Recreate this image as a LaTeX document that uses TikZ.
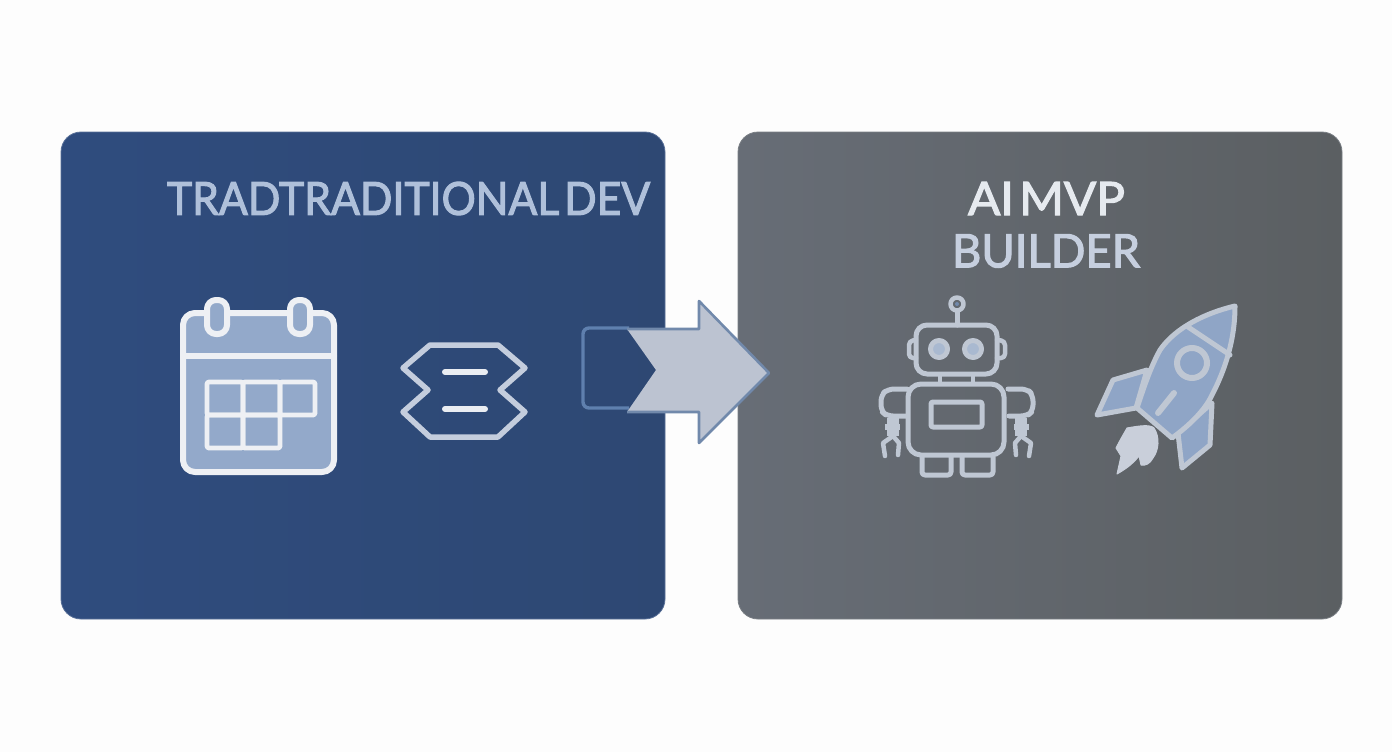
\documentclass[tikz,border=0pt]{standalone}
\usepackage{fontspec}
\setmainfont[WordSpace=0.45,FakeBold=2.4]{Lato}
\definecolor{pagebg}{HTML}{FDFDFD}
\definecolor{blueL}{HTML}{2F4C7E}
\definecolor{blueR}{HTML}{2E4873}
\definecolor{greyL}{HTML}{676D76}
\definecolor{greyM}{HTML}{62686F}
\definecolor{greyR}{HTML}{5B5F62}
\definecolor{calfill}{HTML}{93A9CA}
\definecolor{calline}{HTML}{EEF0F4}
\definecolor{iconline}{HTML}{C4CDDD}
\definecolor{robline}{HTML}{BFC7D3}
\definecolor{eyefill}{HTML}{A9B9D0}
\definecolor{rockfill}{HTML}{8FA5C6}
\definecolor{flame}{HTML}{C9CFDA}
\definecolor{arrowfill}{HTML}{BCC3D1}
\definecolor{arrowline}{HTML}{7189AB}
\definecolor{boxline}{HTML}{5F80AE}
\definecolor{titleA}{HTML}{AFC0DA}
\definecolor{titleB}{HTML}{E6EAEF}
\definecolor{titleC}{HTML}{C6CFDF}
\tikzset{
  panelshape/.style={rounded corners=20pt},
  calstroke/.style={draw=calline,line width=6pt,line join=round,line cap=round},
  hexstroke/.style={draw=iconline,line width=5.5pt,line join=round,line cap=round},
  robstroke/.style={draw=robline,line width=5pt,line join=round,line cap=round},
  rockstroke/.style={draw=robline,line width=5pt,line join=round,line cap=round},
  titletext/.style={inner sep=0pt,anchor=center}
}
\begin{document}
\begin{tikzpicture}[x=1pt,y=-1pt]
\useasboundingbox (0,0) rectangle (1392,752);
\fill[pagebg] (0,0) rectangle (1392,752);
% panels
\shade[panelshape,left color=blueL,right color=blueR] (61,132) rectangle (665,619);
\draw[panelshape,draw=blueL!80!white,line width=.8pt] (61,132) rectangle (665,619);
\shade[panelshape,left color=greyL,middle color=greyM,right color=greyR] (738,132) rectangle (1342,619);
\draw[panelshape,draw=greyM!85!white,line width=.8pt] (738,132) rectangle (1342,619);
% titles
\node[titletext,text=titleA] (tradtitle) at (408.5,198.5) {\resizebox{483pt}{33pt}{TRADTRADITIONAL DEV}};
\node[titletext,text=titleB] (aititle) at (1046.5,198.5) {\resizebox{157pt}{33pt}{AI MVP}};
\node[titletext,text=titleC] (buildertitle) at (1046,251) {\resizebox{188pt}{33pt}{BUILDER}};
% calendar
\draw[calstroke,fill=calfill,rounded corners=12pt] (183,313) rectangle (334,472);
\draw[calstroke] (183,356) -- (334,356);
\foreach \cx in {217,300}{
  \draw[calstroke,fill=calfill,rounded corners=9pt] (\cx-10,300) rectangle (\cx+10,334);
}
\draw[calstroke,line width=4.8pt,rounded corners=2pt] (207,382) rectangle (243,415);
\draw[calstroke,line width=4.8pt,rounded corners=2pt] (243,382) rectangle (280,415);
\draw[calstroke,line width=4.8pt,rounded corners=2pt] (280,382) rectangle (315,415);
\draw[calstroke,line width=4.8pt,rounded corners=2pt] (207,415) rectangle (243,448);
\draw[calstroke,line width=4.8pt,rounded corners=2pt] (243,415) rectangle (280,448);
% hexagon icon
\draw[hexstroke] (430,345) -- (498,345) -- (525,368) -- (500,390) -- (525,412) -- (498,437) -- (430,437) -- (403,412) -- (428,390) -- (403,368) -- cycle;
\draw[calstroke,draw=calline!90!iconline,line width=6pt] (445,372) -- (485,372);
\draw[calstroke,draw=calline!90!iconline,line width=6pt] (445,409) -- (485,409);
% arrow
\draw[boxline,line width=3.4pt,rounded corners=6pt] (629,328) -- (583,328) -- (583,408) -- (629,408);
\fill[arrowfill] (627,329) -- (699,329) -- (699,301) -- (769,373) -- (699,443) -- (699,412) -- (627,412) -- (656,370) -- cycle;
\draw[arrowline,line width=2.6pt,line join=round] (627,329) -- (699,329) -- (699,301) -- (769,373) -- (699,443) -- (699,412) -- (627,412);
% robot
\draw[robstroke] (957,311) -- (957,325);
\draw[robstroke,line width=4.5pt,fill=greyM] (957,304) circle (6.5);
\fill[arrowline] (957,304) circle (2);
\draw[robstroke,line width=4.5pt,rounded corners=4pt] (916,340) -- (909,341) -- (909,358) -- (916,358);
\draw[robstroke,line width=4.5pt,rounded corners=4pt] (997,340) -- (1005,341) -- (1005,358) -- (997,358);
\draw[robstroke,rounded corners=11pt] (916,325) rectangle (997,374);
\draw[robstroke,fill=eyefill] (939,349) circle (8.5);
\draw[robstroke,fill=eyefill] (973,349) circle (8.5);
\draw[robstroke,line width=4pt] (940,375) -- (940,383);
\draw[robstroke,line width=4pt] (973,375) -- (973,383);
\draw[robstroke,rounded corners=13pt] (908,384) rectangle (1004,455);
\draw[robstroke,rounded corners=2pt] (931,402) rectangle (982,427);
\draw[robstroke,rounded corners=6pt] (907,389) -- (888,389) -- (881,395) -- (881,411) -- (887,416) -- (906,416);
\draw[robstroke,rounded corners=6pt] (1008,389) -- (1027,389) -- (1033,395) -- (1033,411) -- (1027,416) -- (1009,416);
% claws
\foreach \sgn/\ax in {1/893,-1/1021}{
  \draw[robstroke,line width=6.5pt,line cap=butt] (\ax-\sgn*6,421) -- (\ax+\sgn*6,421);
  \draw[robstroke,line width=6.5pt,line cap=butt] (\ax-\sgn*8,427) -- (\ax+\sgn*7,427);
  \draw[robstroke,line width=6.5pt,line cap=butt] (\ax-\sgn*6,433) -- (\ax+\sgn*6,433);
  \draw[robstroke,line width=4.5pt] (\ax,436) -- (\ax-\sgn*10,443) -- (\ax-\sgn*8,456);
  \draw[robstroke,line width=4.5pt] (\ax,436) -- (\ax+\sgn*6,443) -- (\ax+\sgn*5,455);
}
% feet
\draw[robstroke,rounded corners=3pt] (922,457) -- (922,475) -- (951,475) -- (951,457);
\draw[robstroke,rounded corners=3pt] (962,457) -- (962,475) -- (993,475) -- (993,457);
% rocket
\draw[rockstroke,fill=rockfill] (1147,370) -- (1113,380) -- (1097,415) -- (1136,408) -- cycle;
\draw[rockstroke,fill=rockfill] (1212,403) -- (1210,445) -- (1182,468) -- (1178,433) -- cycle;
\draw[rockstroke,fill=rockfill] (1235,306) .. controls (1205,313) and (1175,328) .. (1160,350) .. controls (1150,368) and (1143,390) .. (1137,408) -- (1172,438) .. controls (1190,425) and (1205,410) .. (1212,395) .. controls (1225,370) and (1235,340) .. cycle;
\draw[rockstroke] (1188,327) -- (1230,355);
\draw[rockstroke,line width=6pt] (1192,363) circle (15);
\draw[rockstroke,line width=6pt] (1158,413) -- (1174,393);
\fill[flame,line join=round,draw=flame,line width=1pt] (1127,428) .. controls (1138,426) and (1150,424) .. (1154,428) .. controls (1160,437) and (1159,450) .. (1153,458) .. controls (1150,464) and (1145,466) .. (1141,465) -- (1139,456) .. controls (1132,465) and (1124,470) .. (1117,474) -- (1121,456) -- (1116,448) .. controls (1120,440) and (1123,435) .. cycle;
\end{tikzpicture}
\end{document}
